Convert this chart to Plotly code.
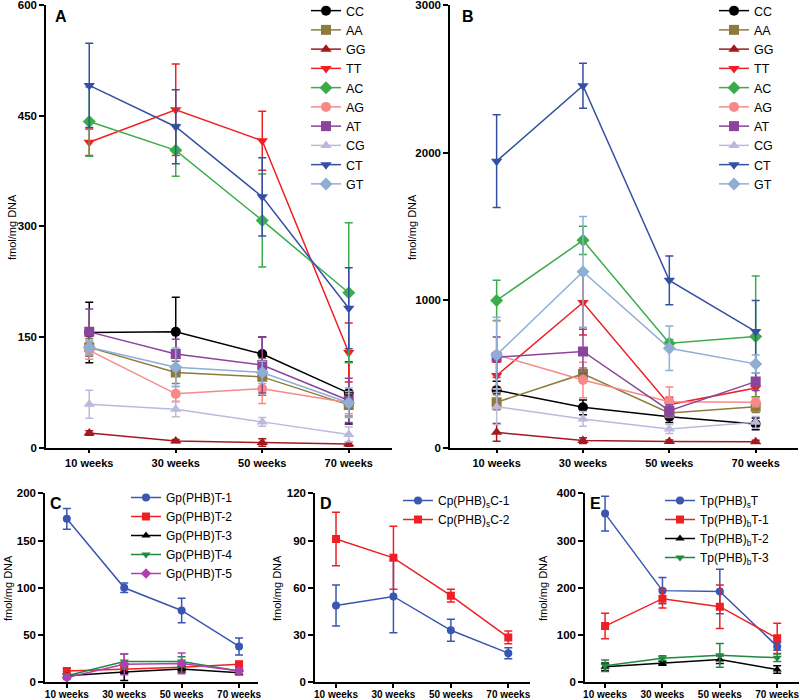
import plotly.graph_objects as go

weeks = ["10 weeks", "30 weeks", "50 weeks", "70 weeks"]

# Panel A
a_names = ["CC", "AA", "GG", "TT", "AC", "AG", "AT", "CG", "CT", "GT"]
a_CC = [156, 157, 127, 74]
a_AA = [136, 102, 96, 58]
a_GG = [20, 9, 7, 5]
a_TT = [414, 458, 416, 129]
a_AC = [442, 403, 308, 210]
a_AG = [132, 73, 80, 61]
a_AT = [157, 127, 112, 64]
a_CG = [59, 52, 35, 18]
a_CT = [491, 435, 340, 189]
a_GT = [136, 109, 102, 61]
a_CC_err = [41, 47, 23, 42]
a_AA_err = [12, 15, 25, 15]
a_GG_err = [3, 2, 5, 3]
a_TT_err = [18, 62, 40, 40]
a_AC_err = [47, 35, 63, 95]
a_AG_err = [12, 10, 20, 15]
a_AT_err = [31, 20, 38, 30]
a_CG_err = [19, 10, 6, 10]
a_CT_err = [57, 50, 53, 55]
a_GT_err = [10, 26, 15, 20]

# Panel B
b_CC = [390, 274, 210, 161]
b_AA = [308, 500, 235, 278]
b_GG = [104, 48, 42, 40]
b_TT = [489, 984, 292, 405]
b_AC = [998, 1405, 708, 754]
b_AG = [629, 459, 312, 308]
b_AT = [613, 652, 251, 448]
b_CG = [278, 195, 127, 172]
b_CT = [1942, 2453, 1134, 787]
b_GT = [629, 1192, 674, 568]
b_CC_err = [60, 50, 40, 40]
b_AA_err = [50, 40, 30, 40]
b_GG_err = [60, 20, 10, 10]
b_TT_err = [90, 220, 50, 60]
b_AC_err = [136, 95, 25, 410]
b_AG_err = [230, 120, 100, 30]
b_AT_err = [137, 150, 40, 60]
b_CG_err = [120, 50, 30, 40]
b_CT_err = [315, 152, 165, 210]
b_GT_err = [255, 375, 150, 60]

# Panel C
c_names = ["Gp(PHB)T-1", "Gp(PHB)T-2", "Gp(PHB)T-3", "Gp(PHB)T-4", "Gp(PHB)T-5"]
c_T1 = [173, 100, 76, 38]
c_T2 = [12, 14, 16, 19]
c_T3 = [7, 11, 14, 10]
c_T4 = [7, 22, 22, 12]
c_T5 = [5, 19, 20, 12]
c_T1_err = [11, 5, 13, 9]
c_T2_err = [3, 3, 3, 3]
c_T3_err = [2, 9, 3, 2]
c_T4_err = [2, 8, 5, 3]
c_T5_err = [2, 11, 11, 3]

# Panel D
d_names = ["Cp(PHB)<sub>s</sub>C-1", "Cp(PHB)<sub>s</sub>C-2"]
d_C1 = [48.7, 54.5, 33, 18.5]
d_C2 = [91, 79, 55, 28.5]
d_C1_err = [13, 23, 7, 3.5]
d_C2_err = [17, 20, 4, 4]

# Panel E
e_names = ["Tp(PHB)<sub>s</sub>T", "Tp(PHB)<sub>b</sub>T-1", "Tp(PHB)<sub>b</sub>T-2", "Tp(PHB)<sub>b</sub>T-3"]
e_s = [357, 194, 192, 76]
e_b1 = [119, 177, 160, 93]
e_b2 = [33, 40, 48, 27]
e_b3 = [35, 51, 57, 52]
e_s_err = [37, 28, 47, 8]
e_b1_err = [27, 20, 46, 32]
e_b2_err = [8, 4, 8, 8]
e_b3_err = [12, 5, 25, 8]

a_colors = ["#000000", "#8c7b3c", "#a3191f", "#ee2024", "#3bac4a", "#f58a86",
            "#8b449c", "#bdb9dd", "#3550a3", "#8eaed6"]
a_symbols = ["circle", "square", "triangle-up", "triangle-down", "diamond",
             "circle", "square", "triangle-up", "triangle-down", "diamond"]

fig = go.Figure()

TICKFONT = dict(family="Liberation Sans, Arial", size=10.5, color="black", weight="bold")
LEGFONT = dict(family="Liberation Sans, Arial", size=12.5, color="black")


def add(name, y, err, color, symbol, xa, ya, legend, msize=9):
    fig.add_trace(go.Scatter(
        x=weeks, y=y, name=name, mode="lines+markers",
        line=dict(color=color, width=1.5),
        marker=dict(color=color, symbol=symbol, size=msize),
        error_y=dict(type="data", array=err, visible=True, color=color, thickness=1.5, width=4),
        xaxis=xa, yaxis=ya, legend=legend,
    ))


a_vals = [a_CC, a_AA, a_GG, a_TT, a_AC, a_AG, a_AT, a_CG, a_CT, a_GT]
a_errs = [a_CC_err, a_AA_err, a_GG_err, a_TT_err, a_AC_err, a_AG_err, a_AT_err, a_CG_err, a_CT_err, a_GT_err]
b_vals = [b_CC, b_AA, b_GG, b_TT, b_AC, b_AG, b_AT, b_CG, b_CT, b_GT]
b_errs = [b_CC_err, b_AA_err, b_GG_err, b_TT_err, b_AC_err, b_AG_err, b_AT_err, b_CG_err, b_CT_err, b_GT_err]

for n, v, e, c, s in zip(a_names, a_vals, a_errs, a_colors, a_symbols):
    add(n, v, e, c, s, "x", "y", "legend", 10)
for n, v, e, c, s in zip(a_names, b_vals, b_errs, a_colors, a_symbols):
    add(n, v, e, c, s, "x2", "y2", "legend2", 10)

c_colors = ["#3a56b0", "#ee2024", "#000000", "#1f8a3f", "#b23fb0"]
c_symbols = ["circle", "square", "triangle-up", "triangle-down", "diamond"]
for n, v, e, c, s in zip(c_names, [c_T1, c_T2, c_T3, c_T4, c_T5],
                         [c_T1_err, c_T2_err, c_T3_err, c_T4_err, c_T5_err], c_colors, c_symbols):
    add(n, v, e, c, s, "x3", "y3", "legend3", 8)

for n, v, e, c, s in zip(d_names, [d_C1, d_C2], [d_C1_err, d_C2_err], c_colors[:2], c_symbols[:2]):
    add(n, v, e, c, s, "x4", "y4", "legend4", 8)

for n, v, e, c, s in zip(e_names, [e_s, e_b1, e_b2, e_b3], [e_s_err, e_b1_err, e_b2_err, e_b3_err],
                         c_colors[:4], c_symbols[:4]):
    add(n, v, e, c, s, "x5", "y5", "legend5", 8)

W, H = 800, 700


def px(v):
    return v / W


def py(v):
    return (H - v) / H


def xax(dom, rng, fs, standoff=0):
    return dict(domain=dom, range=rng, type="category", showline=True, linecolor="black", linewidth=1.5,
                ticks="outside", ticklen=4, tickwidth=1.5, tickcolor="black", tickfont=dict(TICKFONT, size=fs),
                ticklabelstandoff=standoff, automargin=False, ticklabeloverflow="allow",
                showgrid=False, zeroline=False, fixedrange=True)


def yax(dom, rng, dt, anchor):
    return dict(domain=dom, range=rng, dtick=dt, tick0=0, showline=True, linecolor="black", linewidth=1.5,
                ticks="outside", ticklen=5, tickwidth=1.5, tickcolor="black", tickfont=dict(TICKFONT, size=11.5),
                automargin=False, ticklabeloverflow="allow",
                showgrid=False, zeroline=False, anchor=anchor)


top = [py(447.7), py(5)]
bot = [py(682.3), py(493.3)]

fig.update_layout(
    width=W, height=H, margin=dict(l=0, r=0, t=0, b=0, autoexpand=False),
    paper_bgcolor="white", plot_bgcolor="white",
    xaxis=dict(xax([px(46), px(392)], [-0.5, 3.5], 11), anchor="y"),
    yaxis=yax(top, [0, 600], 150, "x"),
    xaxis2=dict(xax([px(450), px(798)], [-0.54, 3.49], 11), anchor="y2"),
    yaxis2=yax(top, [0, 3000], 1000, "x2"),
    xaxis3=dict(xax([px(45), px(258)], [-0.38, 3.33], 10, -2), anchor="y3"),
    yaxis3=yax(bot, [0, 200], 50, "x3"),
    xaxis4=dict(xax([px(315), px(530)], [-0.366, 3.378], 10, -2), anchor="y4"),
    yaxis4=yax(bot, [0, 120], 30, "x4"),
    xaxis5=dict(xax([px(585), px(799)], [-0.35, 3.38], 10, -2), anchor="y5"),
    yaxis5=yax(bot, [0, 400], 100, "x5"),
    showlegend=True,
)

legcommon = dict(bgcolor="rgba(0,0,0,0)", borderwidth=0, xanchor="left", yanchor="top",
                 itemclick=False, tracegroupgap=0)
fig.update_layout(
    legend=dict(legcommon, x=px(306), y=py(-4), font=LEGFONT),
    legend2=dict(legcommon, x=px(714), y=py(-4), font=LEGFONT),
    legend3=dict(legcommon, x=px(126), y=py(483), font=dict(LEGFONT, size=12)),
    legend4=dict(legcommon, x=px(398), y=py(486), font=dict(LEGFONT, size=12)),
    legend5=dict(legcommon, x=px(660), y=py(486), font=dict(LEGFONT, size=12)),
)

TITLEFONT = dict(family="Liberation Sans, Arial", size=11, color="black")
for xc, yc in [(12, 227), (412, 227), (8, 588), (277, 588), (543, 588)]:
    fig.add_annotation(text="fmol/mg DNA", x=px(xc), y=py(yc), xref="paper", yref="paper",
                       textangle=-90, showarrow=False, font=TITLEFONT, xanchor="center", yanchor="middle")

LETFONT = dict(family="Liberation Sans, Arial", size=16, color="black", weight="bold")
for t, xc, yc in [("A", 61, 17), ("B", 468, 17), ("C", 56, 503), ("D", 326, 503), ("E", 595, 503)]:
    fig.add_annotation(text=t, x=px(xc), y=py(yc), xref="paper", yref="paper",
                       showarrow=False, font=LETFONT, xanchor="center", yanchor="middle")

fig.write_html("out.html", config={"displayModeBar": False},
               post_script="document.body.style.margin='0';document.body.style.padding='0';")
